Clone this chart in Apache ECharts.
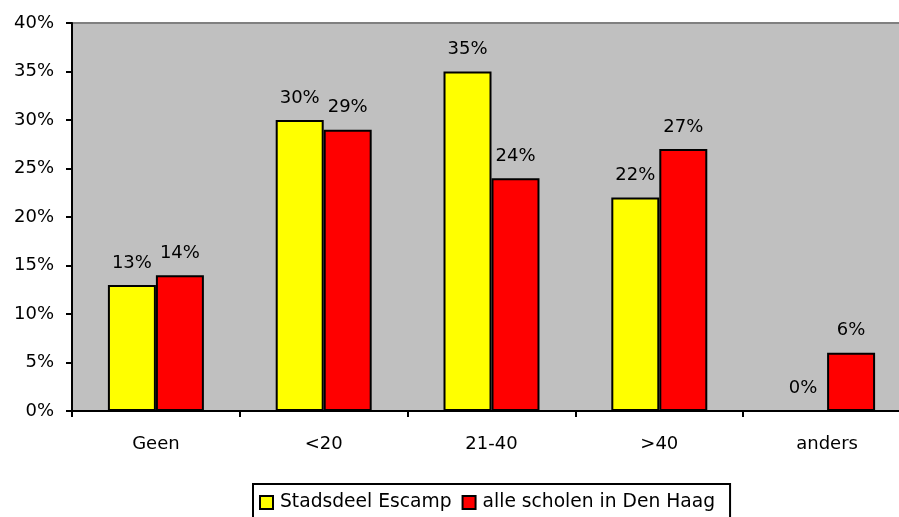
<!DOCTYPE html>
<html><head><meta charset="utf-8">
<script src="https://cdn.jsdelivr.net/npm/echarts@6/dist/echarts.min.js"></script>
<style>html,body{margin:0;padding:0;background:#fff}#c{width:899px;height:517px}</style>
</head><body><div id="c"></div>
<script>
const categories = ['Geen', '<20', '21-40', '>40', 'anders'];
const escamp = [13, 30, 35, 22, 0];
const denHaag = [14, 29, 24, 27, 6];
const seriesNames = ['Stadsdeel Escamp', 'alle scholen in Den Haag'];
const yTicks = [0, 5, 10, 15, 20, 25, 30, 35, 40];

const font = 'DejaVu Sans';
const fs = 18;
const chart = echarts.init(document.getElementById('c'), null, {renderer: 'canvas'});
const lbl = {show: true, position: 'top', distance: 13, formatter: p => p.value + '%', color: '#000', fontFamily: font, fontSize: fs};
chart.setOption({
  animation: false,
  grid: {left: 72, width: 839, top: 23, height: 388, containLabel: false, outerBoundsMode: 'none', show: true, backgroundColor: '#C0C0C0', borderColor: '#808080', borderWidth: 2},
  xAxis: {
    type: 'category', data: categories,
    axisLine: {lineStyle: {color: '#000', width: 2}},
    axisTick: {show: true, length: 6, lineStyle: {color: '#000', width: 2}},
    axisLabel: {color: '#000', fontFamily: font, fontSize: fs, margin: 24}
  },
  yAxis: {
    type: 'value', min: yTicks[0], max: yTicks[yTicks.length - 1], interval: 5,
    splitLine: {show: false},
    axisLine: {show: true, lineStyle: {color: '#000', width: 2}},
    axisTick: {show: true, length: 6, lineStyle: {color: '#000', width: 2}},
    axisLabel: {color: '#000', fontFamily: font, fontSize: fs, margin: 18, formatter: v => v + '%'}
  },
  legend: {
    top: 484, left: 253, itemWidth: 13, itemHeight: 13, itemGap: 10,
    borderColor: '#000', borderWidth: 2, padding: [9, 15, 14, 6],
    textStyle: {color: '#000', fontFamily: font, fontSize: 18.7, padding: [0, 0, 0, 2]},
    data: [{name: seriesNames[0], icon: 'rect'}, {name: seriesNames[1], icon: 'rect'}],
    itemStyle: {borderColor: '#000', borderWidth: 2}
  },
  series: [
    {name: seriesNames[0], type: 'bar', data: escamp, barWidth: '28.6%', barGap: '0%',
     itemStyle: {color: '#FFFF00', borderColor: '#000', borderWidth: 2}, label: lbl},
    {name: seriesNames[1], type: 'bar', data: denHaag, barWidth: '28.6%', barGap: '0%',
     itemStyle: {color: '#FF0000', borderColor: '#000', borderWidth: 2}, label: lbl}
  ]
});
</script></body></html>
